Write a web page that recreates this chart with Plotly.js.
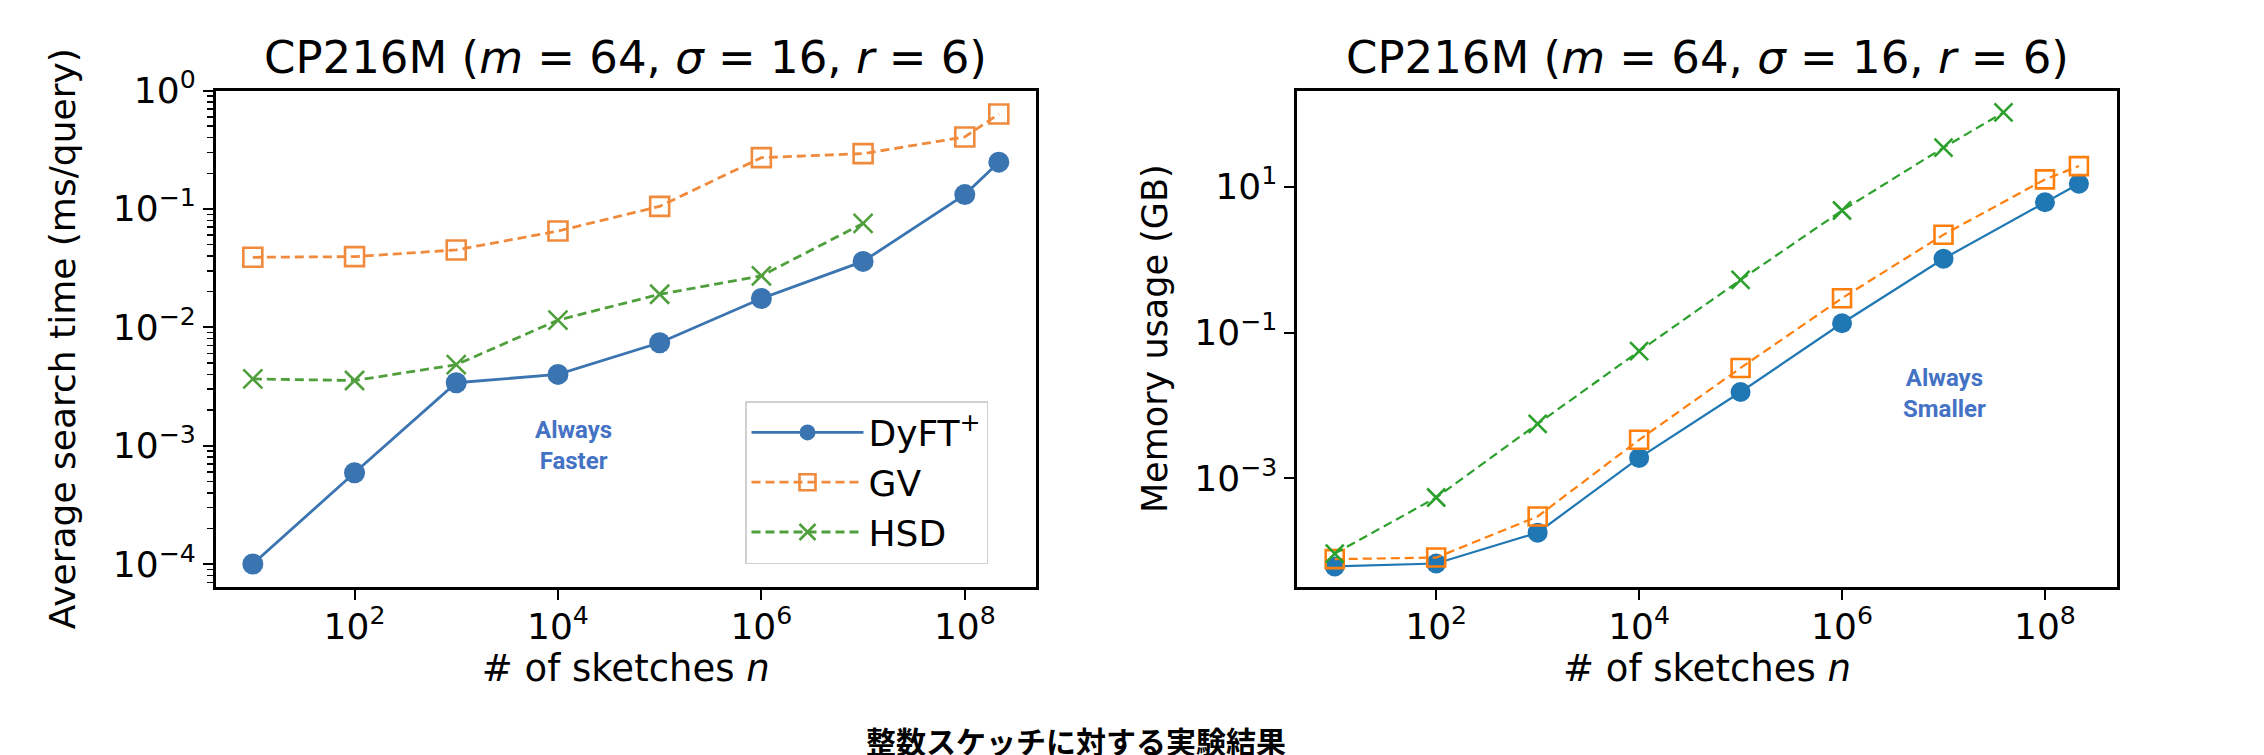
<!DOCTYPE html>
<html>
<head>
<meta charset="utf-8">
<script src="https://cdn.plot.ly/plotly-3.0.1.min.js"></script>
<style>html,body{margin:0;padding:0;background:#fff;}#chart{width:2264px;height:755px;}</style>
</head>
<body>
<div id="chart"></div>
<script>
// ---------- data ----------
const sketchesN   = [10, 100, 1000, 1e4, 1e5, 1e6, 1e7, 1e8, 2.16e8];
const hsdTimeN    = [10, 100, 1000, 1e4, 1e5, 1e6, 1e7];
const hsdMemN     = [10, 100, 1000, 1e4, 1e5, 1e6, 1e7, 3.9e7];

const dyftTime = [1.0e-4, 5.9e-4, 3.4e-3, 4.0e-3, 7.4e-3, 1.75e-2, 3.6e-2, 1.32e-1, 2.48e-1];
const gvTime   = [0.039, 0.0395, 0.045, 0.065, 0.105, 0.271, 0.293, 0.405, 0.633];
const hsdTime  = [0.00366, 0.00355, 0.00483, 0.0115, 0.019, 0.0272, 0.0754];

const dyftMem = [6.2e-5, 6.8e-5, 1.8e-4, 1.91e-3, 0.0153, 0.134, 1.03, 6.13, 11.0];
const gvMem   = [7.8e-5, 8.2e-5, 3.0e-4, 3.38e-3, 0.0327, 0.296, 2.2, 12.6, 19.2];
const hsdMem  = [9.3e-5, 5.47e-4, 5.6e-3, 0.0556, 0.528, 4.72, 34.4, 104.5];

const seriesNames = ["DyFT<sup>+</sup>", "GV", "HSD"];
const panelTitle = "CP216M (<i>m</i> = 64, <i>σ</i> = 16, <i>r</i> = 6)";
const xTitle = "# of sketches <i>n</i>";
const yTitleLeft = "Average search time (ms/query)";
const yTitleRight = "Memory usage (GB)";
const caption = "整数スケッチに対する実験結果";
const xTickVals = [1e2, 1e4, 1e6, 1e8];
const xTickText = ["10<sup>2</sup>", "10<sup>4</sup>", "10<sup>6</sup>", "10<sup>8</sup>"];
const yLeftTickVals = [1e-4, 1e-3, 1e-2, 1e-1, 1];
const yLeftTickText = ["10<sup>−4</sup>", "10<sup>−3</sup>", "10<sup>−2</sup>", "10<sup>−1</sup>", "10<sup>0</sup>"];
const yRightTickVals = [1e-3, 1e-1, 1e1];
const yRightTickText = ["10<sup>−3</sup>", "10<sup>−1</sup>", "10<sup>1</sup>"];

// ---------- styles ----------
const W = 2264, H = 755;
const FONT = "DejaVu Sans, sans-serif";
const leftCol  = {blue: "#3a74b1", orange: "#f08a3c", green: "#4f9f3c"};
const rightCol = {blue: "#1f77b4", orange: "#ff7f0e", green: "#2ca02c"};

function px2x(p) { return p / W; }
function px2y(p) { return 1 - p / H; }

// minor ticks for left y axis
const minorY = [];
for (let e = -5; e <= 0; e++) for (let k = 2; k <= 9; k++) minorY.push(k * Math.pow(10, e));

function traces(xa, ya, col, lw, mk, s, showLegend) {
  return [
    {x: sketchesN, y: s[0], xaxis: xa, yaxis: ya, name: seriesNames[0], showlegend: showLegend,
     mode: "lines+markers", line: {color: col.blue, width: lw},
     marker: {symbol: "circle", size: mk + 2, color: col.blue}},
    {x: sketchesN, y: s[1], xaxis: xa, yaxis: ya, name: seriesNames[1], showlegend: showLegend,
     mode: "lines+markers", line: {color: col.orange, width: lw, dash: "9px,5px"},
     marker: {symbol: "square-open", size: mk, color: col.orange, line: {color: col.orange, width: 2.6}}},
    {x: s[3], y: s[2], xaxis: xa, yaxis: ya, name: seriesNames[2], showlegend: showLegend,
     mode: "lines+markers", line: {color: col.green, width: lw, dash: "9px,5px"},
     marker: {symbol: "x-thin-open", size: mk, color: col.green, line: {color: col.green, width: 2.6}}}
  ];
}

const data = [
  ...traces("x", "y", leftCol, 2.8, 19, [dyftTime, gvTime, hsdTime, hsdTimeN], true),
  ...traces("x2", "y2", rightCol, 2.2, 18, [dyftMem, gvMem, hsdMem, hsdMemN], false)
];

const axisCommon = {
  type: "log", showgrid: false, zeroline: false,
  showline: true, mirror: true, linecolor: "black", linewidth: 2.6,
  ticks: "outside", ticklen: 10, tickwidth: 2, tickcolor: "black",
  tickmode: "array",
  tickfont: {family: FONT, size: 36, color: "black"}
};

const yDom = [px2y(587), px2y(90.5)];

const layout = {
  width: W, height: H,
  margin: {l: 0, r: 0, t: 0, b: 0},
  paper_bgcolor: "white", plot_bgcolor: "white",
  showlegend: true,
  font: {family: FONT, color: "black"},
  xaxis: Object.assign({}, axisCommon, {
    domain: [px2x(215.5), px2x(1036)], range: [0.633, 8.70],
    tickvals: xTickVals, ticktext: xTickText, anchor: "y", ticklabelstandoff: -4,
    title: {text: xTitle, font: {family: FONT, size: 37, color: "black"}, standoff: 10}
  }),
  yaxis: Object.assign({}, axisCommon, {
    domain: yDom, range: [-4.194, 0], anchor: "x",
    tickvals: yLeftTickVals, ticktext: yLeftTickText,
    minor: {tickvals: minorY, ticks: "outside", ticklen: 6, tickwidth: 1.5, tickcolor: "black", showgrid: false},
    title: {text: yTitleLeft, font: {family: FONT, size: 36, color: "black"}, standoff: 26}
  }),
  xaxis2: Object.assign({}, axisCommon, {
    domain: [px2x(1297), px2x(2117)], range: [0.628, 8.71],
    tickvals: xTickVals, ticktext: xTickText, anchor: "y2", ticklabelstandoff: -4,
    title: {text: xTitle, font: {family: FONT, size: 37, color: "black"}, standoff: 10}
  }),
  yaxis2: Object.assign({}, axisCommon, {
    domain: yDom, range: [-4.49, 2.32], anchor: "x2",
    tickvals: yRightTickVals, ticktext: yRightTickText,
    title: {text: yTitleRight, font: {family: FONT, size: 35, color: "black"}, standoff: 16}
  }),
  legend: {
    x: px2x(745), y: px2y(401), xanchor: "left", yanchor: "top",
    bgcolor: "rgba(255,255,255,0.85)", bordercolor: "#d0d0d0", borderwidth: 1.5,
    font: {family: FONT, size: 36, color: "black"},
    itemwidth: 112, tracegroupgap: 0
  },
  annotations: [
    {text: panelTitle, xref: "paper", yref: "paper", x: px2x(625.75), y: px2y(58),
     xanchor: "center", yanchor: "middle", showarrow: false,
     font: {family: FONT, size: 45, color: "black"}},
    {text: panelTitle, xref: "paper", yref: "paper", x: px2x(1707), y: px2y(58),
     xanchor: "center", yanchor: "middle", showarrow: false,
     font: {family: FONT, size: 45, color: "black"}},
    {text: "<b>Always</b><br><b>Faster</b>", xref: "paper", yref: "paper", x: px2x(573), y: px2y(446),
     xanchor: "center", yanchor: "middle", showarrow: false,
     font: {family: "Liberation Sans Narrow, Roboto, sans-serif", size: 24, color: "#4472c4"}},
    {text: "<b>Always</b><br><b>Smaller</b>", xref: "paper", yref: "paper", x: px2x(1944), y: px2y(394),
     xanchor: "center", yanchor: "middle", showarrow: false,
     font: {family: "Liberation Sans Narrow, Roboto, sans-serif", size: 24, color: "#4472c4"}},
    {text: "<b>" + caption + "</b>", xref: "paper", yref: "paper", x: px2x(1076), y: px2y(740),
     xanchor: "center", yanchor: "middle", showarrow: false,
     font: {family: "Noto Sans CJK JP, sans-serif", size: 30, color: "black"}}
  ]
};

Plotly.newPlot("chart", data, layout, {staticPlot: true, displayModeBar: false});
</script>
</body>
</html>
